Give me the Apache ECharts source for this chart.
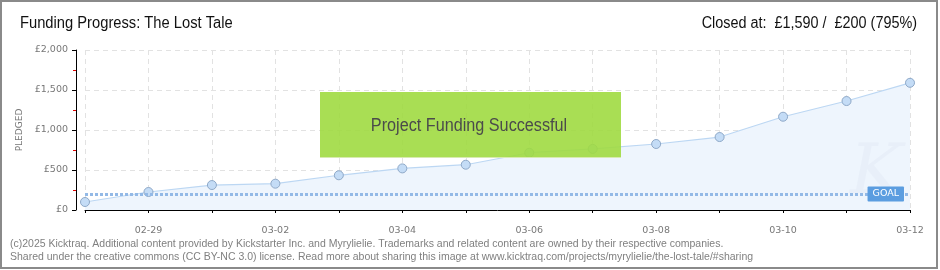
<!DOCTYPE html>
<html><head><meta charset="utf-8">
<script src="https://cdn.jsdelivr.net/npm/echarts@6/dist/echarts.min.js"></script>
<style>html,body{margin:0;padding:0;background:#fff}#c{width:940px;height:270px}</style>
</head><body><div id="c"></div>
<script>
var categories = ['02-28','02-29','03-01','03-02','03-03','03-04','03-05','03-06','03-07','03-08','03-09','03-10','03-11','03-12'];
var pledged = [100, 225, 312, 329, 434, 520, 566, 716, 764, 825, 912, 1166, 1362, 1590];
var goal = 200;
var yTicks = [0, 500, 1000, 1500, 2000];
var titleText = 'Funding Progress: The Lost Tale';
var statusText = 'Closed at:  \u00a31,590 /  \u00a3200 (795%)';
var bannerText = 'Project Funding Successful';
var footer1 = '(c)2025 Kicktraq. Additional content provided by Kickstarter Inc. and Myrylielie. Trademarks and related content are owned by their respective companies.';
var footer2 = 'Shared under the creative commons (CC BY-NC 3.0) license. Read more about sharing this image at www.kicktraq.com/projects/myrylielie/the-lost-tale/#sharing';

var chart = echarts.init(document.getElementById('c'), null, {renderer:'canvas'});
var titleFont = '"Liberation Sans",sans-serif';
var smallFont = '"DejaVu Sans",sans-serif';
chart.setOption({
  animation:false,
  backgroundColor:'#fff',
  grid:{left:85,right:30,top:50,bottom:60,containLabel:false},
  xAxis:{
    type:'category', data:categories, boundaryGap:false, offset:10,
    axisLine:{lineStyle:{color:'#000',width:1}},
    axisTick:{show:true,interval:0,length:3,lineStyle:{color:'#000'}},
    axisLabel:{interval:function(i){return i%2===1;}, color:'#777', fontFamily:smallFont, fontSize:9.5, margin:6},
    splitLine:{show:true, interval:0, lineStyle:{color:'#e2e2e2', type:[5,4], width:1}}
  },
  yAxis:{
    type:'value', min:yTicks[0], max:yTicks[yTicks.length-1], interval:500, offset:9,
    name:'PLEDGED', nameLocation:'middle', nameGap:50, nameRotate:90,
    nameTextStyle:{color:'#777', fontFamily:smallFont, fontSize:9},
    axisLine:{show:true, lineStyle:{color:'#000',width:1}},
    axisTick:{show:true, length:4, lineStyle:{color:'#000'}},
    minorTick:{show:true, splitNumber:2, length:3, lineStyle:{color:'#e00000'}},
    axisLabel:{color:'#777', fontFamily:smallFont, fontSize:9.5, margin:8,
      formatter:function(v){return '\u00a3'+v.toLocaleString('en-US');}},
    splitLine:{show:true, lineStyle:{color:'#e2e2e2', type:[5,4], width:1}}
  },
  series:[{
    type:'line', data:pledged, symbol:'circle', symbolSize:9,
    lineStyle:{color:'#bcd7f3', width:1.2},
    itemStyle:{color:'#c4dcf6', borderColor:'#8fa9c8', borderWidth:1},
    areaStyle:{color:'#eef5fd', opacity:1},
    z:3,
    markLine:{
      silent:true, symbol:'none',
      data:[{yAxis:goal}],
      lineStyle:{color:'#93b9e6', type:[3,2], width:3},
      label:{show:true, position:'insideEnd', formatter:'GOAL', color:'#fff',
        backgroundColor:'#5b9de0', padding:[3,5,2,5], fontFamily:smallFont, fontSize:9.5, borderRadius:1, distance:6}
    }
  }],
  graphic:[
    {type:'rect', shape:{x:1,y:1,width:936,height:267}, style:{fill:null, stroke:'#8a8a8a', lineWidth:2}, z:100},
    {type:'text', x:20, y:24, scaleX:0.92, style:{text:titleText, font:'16px '+titleFont, fill:'#111', verticalAlign:'middle'}},
    {type:'text', x:917, y:24, scaleX:0.9, style:{text:statusText, font:'16px '+titleFont, fill:'#111', align:'right', verticalAlign:'middle'}},
    {type:'text', left:10, top:239, style:{text:footer1, font:'10.5px "Liberation Sans",sans-serif', fill:'#808080'}},
    {type:'text', left:10, top:252, style:{text:footer2, font:'10.5px "Liberation Sans",sans-serif', fill:'#808080'}},
    {type:'text', x:850, y:140, style:{text:'K', font:'italic 70px "DejaVu Serif",serif', fill:'rgba(215,225,238,0.25)'}, z:4},
    {type:'rect', shape:{x:320,y:92,width:301,height:66}, style:{fill:'rgba(160,218,65,0.9)'}, z:50},
    {type:'rect', shape:{x:320,y:157,width:301,height:1}, style:{fill:'#d8eab0'}, z:51},
    {type:'text', x:469, y:126, scaleX:0.9, style:{text:bannerText, font:'18px '+titleFont, fill:'#4b4b4b', align:'center', verticalAlign:'middle',
      textShadowColor:'#ffffff', textShadowOffsetX:1, textShadowOffsetY:1, textShadowBlur:0}, z:52}
  ]
});
</script></body></html>
